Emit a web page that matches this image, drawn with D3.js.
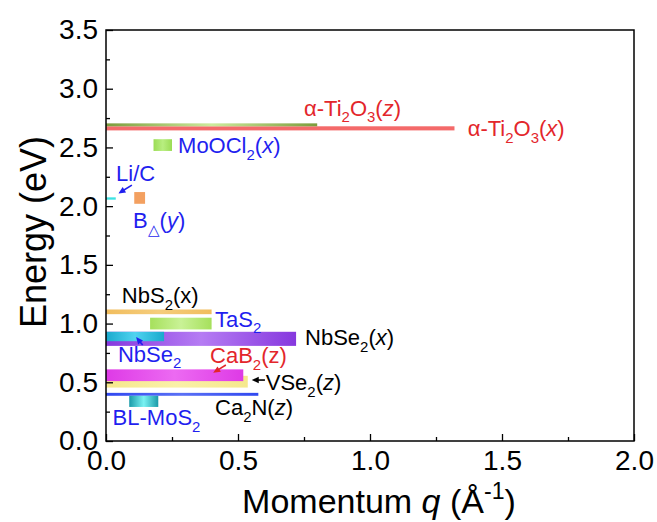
<!DOCTYPE html>
<html>
<head>
<meta charset="utf-8">
<script src="https://cdnjs.cloudflare.com/ajax/libs/d3/7.8.5/d3.min.js"></script>
<style>
  body { margin: 0; background: #fff; }
  text { font-family: "Liberation Sans", Arial, sans-serif; }
</style>
</head>
<body>
<div id="chart"></div>
<script>
// ---- data ----
const materials = ['α-Ti2O3(x)', 'α-Ti2O3(z)', 'MoOCl2(x)', 'Li/C', 'B△(y)',
    'NbS2(x)', 'TaS2', 'NbSe2(x)', 'NbSe2', 'VSe2(z)', 'CaB2(z)', 'Ca2N(z)', 'BL-MoS2'];
const q_start = [0, 0, 0.18, 0, 0.107, 0, 0.167, 0, 0, 0, 0, 0, 0.088];
const q_end = [1.32, 0.80, 0.25, 0.037, 0.148, 0.40, 0.40, 0.72, 0.22, 0.537, 0.52, 0.577, 0.198];
const e_low = [2.645, 2.68, 2.47, 2.055, 2.02, 1.08, 0.95, 0.81, 0.85, 0.455, 0.51, 0.385, 0.29];
const e_high = [2.68, 2.705, 2.57, 2.075, 2.12, 1.12, 1.05, 0.93, 0.93, 0.555, 0.61, 0.41, 0.385];

// label text (markup: _{} sub, ^{} sup, *..* italic) and where it sits
const label_text = ['α-Ti_{2}O_{3}(*x*)', 'α-Ti_{2}O_{3}(*z*)', 'MoOCl_{2}(*x*)', 'Li/C', 'B_{△}(*y*)',
    'NbS_{2}(x)', 'TaS_{2}', 'NbSe_{2}(*x*)', 'NbSe_{2}', 'VSe_{2}(*z*)', 'CaB_{2}(z)', 'Ca_{2}N(*z*)', 'BL-MoS_{2}'];
const label_q = [1.37, 0.75, 0.273, 0.038, 0.102, 0.06, 0.413, 0.754, 0.045, 0.605, 0.394, 0.413, 0.025];
const label_e = [2.595, 2.77, 2.45, 2.215, 1.81, 1.175, 0.973, 0.817, 0.675, 0.434, 0.661, 0.221, 0.136];

// arrows: [tail q, tail E, head q, head E]
const arrows = [
    [0.098, 2.179, 0.047, 2.108],
    [0.139, 0.817, 0.114, 0.885],
    [0.454, 0.647, 0.406, 0.581],
    [0.602, 0.519, 0.552, 0.519],
];
const arrow_colors = ['#1f1fef', '#1f1fef', '#e3262b', '#000'];

const x_major = [0, 0.5, 1.0, 1.5, 2.0];
const x_minor = [0.25, 0.75, 1.25, 1.75];
const y_major = [0, 0.5, 1.0, 1.5, 2.0, 2.5, 3.0, 3.5];
const y_minor = [0.25, 0.75, 1.25, 1.75, 2.25, 2.75, 3.25];

// ---- styles ----
const bar_colors = [
    ['#f46a6a', '#f46a6a'],
    ['#7c9c3c', '#cdeb9c'],
    ['#9bdc55', '#b8ee80'],
    ['#3fe3e3', '#3fe3e3'],
    ['#f3a060', '#f3a060'],
    ['#f1bd5e', '#f5cd7c'],
    ['#a6e05c', '#c9f296'],
    ['#8638de', '#b57cf3'],
    ['#1aa9cd', '#4fd3f0'],
    ['#f6e88c', '#faf0a8'],
    ['#de3ae6', '#ec6af2'],
    ['#3048f0', '#5a70f5'],
    ['#1a9aa8', '#7af2f2'],
];
const label_colors = ['#e3262b', '#e3262b', '#1f1fef', '#1f1fef', '#1f1fef',
    '#000', '#1f1fef', '#000', '#1f1fef', '#000', '#e3262b', '#000', '#1f1fef'];

const chart_width = 657;
const chart_height = 522;
const plot = { left: 106, right: 634, top: 30, bottom: 441 };

const svg = d3.select('#chart')
    .append('svg')
    .attr('width', chart_width)
    .attr('height', chart_height);

const x_scale = d3.scaleLinear().domain([0, 2]).range([plot.left, plot.right]);
const y_scale = d3.scaleLinear().domain([0, 3.5]).range([plot.bottom, plot.top]);

// gradients
const defs = svg.append('defs');
bar_colors.forEach((c, i) => {
    const g = defs.append('linearGradient')
        .attr('id', 'grad' + i)
        .attr('x1', 0).attr('x2', 1).attr('y1', 0).attr('y2', 0);
    g.append('stop').attr('offset', 0).attr('stop-color', c[0]);
    g.append('stop').attr('offset', 0.5).attr('stop-color', c[1]);
    g.append('stop').attr('offset', 1).attr('stop-color', c[0]);
});

// bars
svg.append('g')
    .selectAll('rect')
    .data(d3.range(materials.length))
    .enter()
    .append('rect')
    .attr('x', i => x_scale(q_start[i]))
    .attr('width', i => x_scale(q_end[i]) - x_scale(q_start[i]))
    .attr('y', i => y_scale(e_high[i]))
    .attr('height', i => y_scale(e_low[i]) - y_scale(e_high[i]))
    .attr('fill', i => `url(#grad${i})`);

// arrows
arrows.forEach((a, i) => {
    const col = arrow_colors[i];
    const x1 = x_scale(a[0]), y1 = y_scale(a[1]);
    const x2 = x_scale(a[2]), y2 = y_scale(a[3]);
    const ang = Math.atan2(y2 - y1, x2 - x1);
    const hl = 7, hw = 3.2;
    svg.append('line')
        .attr('x1', x1).attr('y1', y1)
        .attr('x2', x2 - Math.cos(ang) * hl * 0.8).attr('y2', y2 - Math.sin(ang) * hl * 0.8)
        .attr('stroke', col).attr('stroke-width', 1.6);
    const bx = x2 - Math.cos(ang) * hl, by = y2 - Math.sin(ang) * hl;
    svg.append('path')
        .attr('d', `M${x2},${y2} L${bx - Math.sin(ang) * hw},${by + Math.cos(ang) * hw} L${bx + Math.sin(ang) * hw},${by - Math.cos(ang) * hw} Z`)
        .attr('fill', col);
});

// rich text helper
function rich(sel, markup, size) {
    const parts = markup.match(/_\{[^}]*\}|\^\{[^}]*\}|\*[^*]*\*|[^_^*]+/g);
    let shift = 0;
    parts.forEach(p => {
        let t = p, dy = 0, fs = size, style = 'normal';
        if (p.startsWith('_{')) { t = p.slice(2, -1); dy = size * 0.3; fs = size * 0.68; }
        else if (p.startsWith('^{')) { t = p.slice(2, -1); dy = -size * 0.4; fs = size * 0.68; }
        else if (p.startsWith('*')) { t = p.slice(1, -1); style = 'italic'; }
        sel.append('tspan')
            .attr('dy', dy - shift)
            .attr('font-size', fs)
            .attr('font-style', style)
            .text(t);
        shift = dy;
    });
}

// labels
const labels = svg.append('g');
materials.forEach((m, i) => {
    const t = labels.append('text')
        .attr('x', x_scale(label_q[i]))
        .attr('y', y_scale(label_e[i]))
        .attr('fill', label_colors[i])
        .attr('font-size', 22);
    rich(t, label_text[i], 22);
});

// axes (ticks point inward)
svg.append('g')
    .attr('transform', `translate(0, ${plot.bottom})`)
    .call(d3.axisBottom(x_scale).tickValues(x_major).tickSize(-7).tickPadding(9).tickFormat(d3.format('.1f')));
svg.append('g')
    .attr('transform', `translate(0, ${plot.bottom})`)
    .call(d3.axisBottom(x_scale).tickValues(x_minor).tickSize(-4).tickFormat(''));
svg.append('g')
    .attr('transform', `translate(${plot.left}, 0)`)
    .call(d3.axisLeft(y_scale).tickValues(y_major).tickSize(-7).tickPadding(8).tickFormat(d3.format('.1f')));
svg.append('g')
    .attr('transform', `translate(${plot.left}, 0)`)
    .call(d3.axisLeft(y_scale).tickValues(y_minor).tickSize(-4).tickFormat(''));

svg.selectAll('.domain').remove();
svg.selectAll('.tick line').attr('stroke', '#000').attr('stroke-width', 1.3);
svg.selectAll('.tick text')
    .attr('font-size', 28)
    .attr('font-family', '"Liberation Sans", Arial, sans-serif')
    .attr('fill', '#000');

// frame
svg.append('rect')
    .attr('x', plot.left).attr('y', plot.top)
    .attr('width', plot.right - plot.left).attr('height', plot.bottom - plot.top)
    .attr('fill', 'none').attr('stroke', '#000').attr('stroke-width', 1.5);

// axis titles
const xt = svg.append('text')
    .attr('x', 379)
    .attr('y', 513)
    .attr('text-anchor', 'middle')
    .attr('font-size', 34);
rich(xt, 'Momentum *q* (Å^{-1})', 34);

svg.append('text')
    .attr('transform', `translate(46, 232) rotate(-90)`)
    .attr('text-anchor', 'middle')
    .attr('font-size', 36)
    .text('Energy (eV)');
</script>
</body>
</html>
